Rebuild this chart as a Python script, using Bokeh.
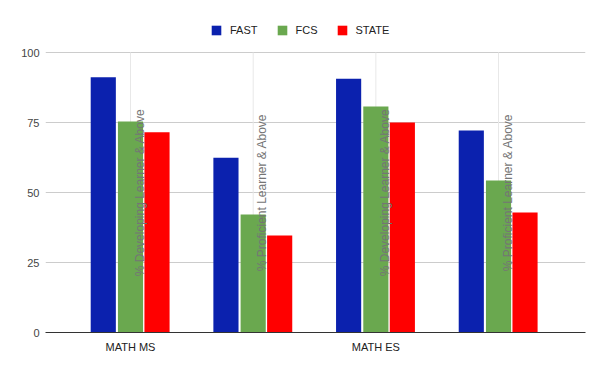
from bokeh.plotting import figure
from bokeh.models import ColumnDataSource, Legend, LegendItem, FixedTicker
from bokeh.transform import dodge
from bokeh.core.properties import value
from bokeh.embed import file_html
from bokeh.resources import INLINE

categories = ["MATH MS", "", "MATH ES", ""]
group_notes = ["% Developing Learner & Above", "% Proficient Learner & Above",
               "% Developing Learner & Above", "% Proficient Learner & Above"]
fast = [91.2, 62.4, 90.6, 72.1]
fcs = [75.4, 42.1, 80.7, 54.3]
state = [71.5, 34.6, 75.0, 42.9]
series_names = ["FAST", "FCS", "STATE"]
colors = ["#0b21ae", "#6aa84f", "#ff0000"]
y_ticks = [0, 25, 50, 75, 100]

idx = list(range(len(categories)))
src = ColumnDataSource(dict(x=idx, FAST=fast, FCS=fcs, STATE=state,
                            note=group_notes, mid=[50] * len(idx),
                            y0=[0] * len(idx), y1=[100] * len(idx)))

FONT = "Liberation Sans"
p = figure(width=600, height=371, output_backend="svg", toolbar_location=None,
           x_range=(-0.693, 3.709), y_range=(0, 111.43),
           min_border_left=45, min_border_right=15, min_border_top=20,
           min_border_bottom=39)
p.outline_line_color = None
p.xgrid.grid_line_color = None
p.ygrid.grid_line_color = "#cccccc"

# vertical category grid lines, limited to the value range
p.segment(x0="x", x1="x", y0="y0", y1="y1", source=src,
          line_color="#e8e8e8", line_width=1)

rs = []
offsets = [-0.222, 0.0, 0.216]
for name, col, off in zip(series_names, colors, offsets):
    r = p.vbar(x=dodge("x", off, range=p.x_range), top=name, width=0.205,
               source=src, fill_color=col, line_color=None)
    rs.append(r)

p.text(x="x", y="mid", text="note", source=src, angle=1.5708,
       text_align="center", text_baseline="middle", x_offset=9,
       text_font=value(FONT), text_font_size="12px", text_color="#757575")

p.xaxis.ticker = FixedTicker(ticks=idx)
p.xaxis.major_label_overrides = {i: c for i, c in zip(idx, categories)}
p.xaxis.major_tick_line_color = None
p.xaxis.major_tick_out = 0
p.xaxis.major_tick_in = 0
p.xaxis.minor_tick_line_color = None
p.xaxis.axis_line_color = "#333333"
p.xaxis.major_label_text_font = FONT
p.xaxis.major_label_text_font_size = "11px"
p.xaxis.major_label_text_color = "#222222"
p.xaxis.major_label_standoff = 8

p.yaxis.ticker = FixedTicker(ticks=y_ticks)
p.yaxis.axis_line_color = None
p.yaxis.major_tick_line_color = None
p.yaxis.major_tick_out = 0
p.yaxis.major_tick_in = 0
p.yaxis.minor_tick_line_color = None
p.yaxis.major_label_text_font = FONT
p.yaxis.major_label_text_font_size = "11px"
p.yaxis.major_label_text_color = "#444444"
p.yaxis.major_label_standoff = 6

legend = Legend(items=[LegendItem(label=n, renderers=[r]) for n, r in zip(series_names, rs)],
                orientation="horizontal", location=(165, 296),
                padding=0, margin=0, spacing=18, label_standoff=8,
                glyph_width=12, glyph_height=12,
                border_line_color=None, background_fill_alpha=0,
                label_text_font=FONT, label_text_font_size="11px",
                label_text_color="#222222")
p.add_layout(legend, "center")

open("out.html", "w").write(file_html(p, INLINE))
